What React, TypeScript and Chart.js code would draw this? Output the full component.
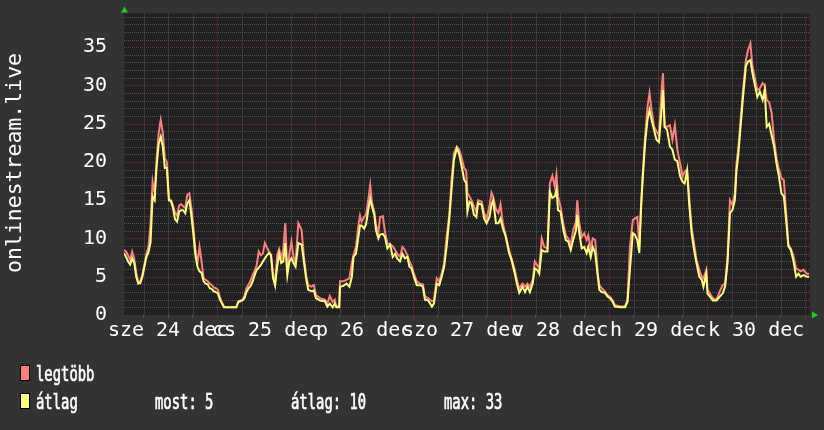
import React, { useEffect, useRef } from "react";
import { Chart, registerables } from "chart.js";

Chart.register(...registerables);

// hours since the start of the graph (one week)
const hours = [
  0, 0.5, 1, 1.5, 2, 2.5, 3, 3.5, 4, 4.5, 5, 5.5, 6, 6.5, 7, 7.5, 8, 8.5, 9, 9.5, 10, 10.5, 11, 11.5, 12, 12.5, 13, 13.5, 14, 14.5, 15, 15.5, 16, 16.5, 17, 17.5, 18, 18.5, 19, 19.5, 20, 20.5, 21, 21.5, 22, 22.5, 23, 23.5, 24, 24.5,
  25, 26, 27, 27.5, 28, 28.5, 29, 29.5, 30, 30.5, 31, 31.5, 32, 32.5, 33, 33.5, 34, 34.5, 35, 35.5, 36, 36.5, 37, 37.5, 38, 38.5, 39, 39.5, 40, 40.5, 41, 41.5, 42, 42.7, 43.5, 44.1, 44.6, 45.1, 45.9, 46.5, 47, 48, 49.2, 49.8, 50.4, 51.1, 51.6, 52, 52.7,
  52.9, 53.7, 54.5, 55.2, 55.8, 56.2, 56.8, 57.4, 57.8, 58.2, 58.8, 59.3, 59.8, 60.3, 60.7, 61.3, 61.7, 62.3, 62.7, 63.4, 63.9, 64.5, 65.2, 65.8, 66.4, 66.9, 67.6, 68.2, 68.8, 69.4, 69.9, 70.4, 71, 71.7, 72.5, 73.2, 73.7, 74.5, 75.4, 75.9, 76.6, 77.2, 77.8, 78.4, 79, 79.7,
  80.2, 80.8, 81.5, 82.1, 82.7, 83.3, 83.8, 84.1, 84.6, 85.1, 85.7, 86.3, 86.7, 87.6, 88.2, 88.8, 89.5, 90, 90.4, 91.1, 91.7, 92.2, 92.8, 93.5, 94.3, 94.9, 95.7, 96.3, 96.8, 97.6, 98.2, 98.8, 99.4, 100.1, 100.6, 101.2, 101.7, 102.3, 102.9, 103.7, 104.3, 104.9,
  105.5, 105.9, 106.3, 106.9, 107.6, 108.2, 108.8, 109.4, 110, 110.7, 111, 111.5, 112.1, 112.7, 113.3, 113.7, 114.3, 114.8, 115.4, 116, 116.4, 117, 117.8, 118.4, 119, 119.7, 120.2, 121.5, 122.7, 123.3, 123.9, 124.6, 125.1, 125.7, 126.2, 126.6, 127,
  127.6, 128.2, 128.7, 129.2, 129.8, 130.4, 131, 131.6, 132, 132.4, 133, 133.7, 134.3, 134.9, 135.5, 136.2, 136.8, 137.3, 137.9, 138.4, 139, 139.6, 140.2, 140.9, 141.5, 141.9, 142.6, 142.9, 143.5, 144.2, 145.1, 145.9, 146.6, 147.2, 147.8, 148.4, 149, 149.6, 150, 150.4, 151, 151.6, 152.3, 152.8, 153.4, 153.9, 154.4, 155.1, 155.7, 156.4, 156.9, 157.4, 158, 158.6, 159.2, 159.8, 160.4, 161, 161.6, 162.1, 162.7, 163.3, 163.9, 164.6, 165.2, 165.7, 166.4, 167.2, 167.8,
];

// "legtöbb" (maximum)
const maxVals = [
  8.5, 8.3, 7.8, 7.2, 8.3, 7.4, 5.5, 4.3, 4.4, 5.3, 6.6, 8.0, 8.9, 12.0, 17.4, 15.8, 20.5, 23.8, 25.5, 23.8, 20.5, 20.0, 15.2, 15.0, 14.3, 13.4, 13.0, 14.3, 14.5, 14.2, 14.0, 15.7, 15.9, 14.0, 11.5, 8.4, 6.8, 8.9, 7.0, 4.8, 4.6, 4.4, 4.1, 3.9, 3.6, 3.5, 3.3, 2.3, 1.6, 1.1,
  1.0, 1.0, 1.0, 1.0, 1.8, 1.9, 2.0, 2.5, 3.5, 4.0, 4.5, 5.2, 5.8, 6.5, 8.3, 7.8, 8.0, 9.4, 8.8, 8.3, 7.9, 5.5, 4.0, 7.8, 8.6, 7.5, 8.5, 12.0, 5.6, 8.0, 9.6, 7.6, 6.8, 12.0, 11.1, 7.4, 5.2, 3.9, 3.7, 3.9, 2.6, 2.2, 2.0, 1.5, 2.5, 1.7, 2.0, 1.1, 1.1,
  4.4, 4.4, 4.6, 4.8, 6.8, 7.8, 8.9, 11.7, 13.0, 12.2, 12.8, 13.1, 15.0, 17.0, 14.8, 13.5, 11.8, 10.7, 12.8, 12.9, 10.9, 9.4, 9.2, 9.0, 8.5, 8.0, 7.6, 8.9, 8.5, 7.8, 7.0, 6.5, 5.4, 4.4, 4.1, 4.0, 2.4, 2.2, 1.8, 1.9, 4.8, 4.4, 5.4, 6.8, 10.2, 13.3,
  17.6, 21.1, 22.0, 21.6, 20.5, 19.2, 18.9, 15.9, 15.5, 15.0, 14.2, 13.5, 15.0, 14.8, 13.3, 12.6, 14.2, 16.0, 15.5, 13.8, 13.3, 14.5, 11.9, 10.4, 8.5, 7.4, 5.9, 4.4, 3.5, 4.1, 3.7, 4.1, 3.7, 4.6, 7.0, 6.5, 6.1, 10.0, 8.9, 8.7, 17.2, 18.2,
  16.8, 18.4, 15.5, 14.2, 11.9, 10.4, 10.0, 9.2, 11.1, 12.2, 15.0, 12.0, 10.2, 10.7, 9.8, 10.4, 8.7, 10.0, 9.8, 5.6, 3.9, 3.5, 3.1, 2.6, 2.4, 1.9, 1.3, 1.1, 1.1, 2.0, 8.9, 12.4, 12.6, 12.8, 9.0, 14.2, 18.0,
  23.3, 27.2, 29.0, 26.8, 24.6, 24.0, 23.5, 29.0, 31.6, 24.6, 24.6, 24.8, 22.9, 24.8, 21.6, 19.8, 18.1, 18.7, 19.0, 15.5, 11.5, 9.4, 7.2, 5.9, 5.0, 4.8, 5.9, 3.3, 2.8, 2.2, 2.0, 3.1, 3.9, 4.1, 7.6, 15.0, 14.4, 15.9, 19.8, 21.6, 25.5, 29.4, 33.3, 34.6, 35.5, 32.5, 31.2, 29.4, 29.6, 30.3, 30.0, 28.1, 27.8, 26.4, 22.9, 20.5, 19.0, 17.9, 17.6, 13.7, 9.2, 8.7, 7.8, 6.1, 5.9, 5.7, 5.9, 5.4, 5.4,
];

// "átlag" (average)
const avgVals = [
  8.1, 7.6, 7.0, 6.6, 7.4, 6.8, 5.0, 4.1, 4.2, 5.0, 6.3, 7.6, 8.2, 9.5, 15.5, 15.0, 19.5, 22.4, 23.3, 22.0, 19.2, 19.2, 15.0, 14.9, 14.0, 12.5, 12.2, 13.5, 13.7, 13.7, 13.3, 14.6, 15.0, 13.0, 10.5, 7.8, 6.3, 5.7, 5.5, 4.4, 4.1, 4.0, 3.5, 3.4, 3.1, 3.0, 2.8, 2.0, 1.5, 1.0,
  1.0, 1.0, 1.0, 1.0, 1.7, 1.8, 1.9, 2.2, 3.0, 3.5, 3.8, 4.4, 5.2, 5.9, 6.2, 6.5, 7.0, 7.4, 7.8, 8.1, 7.8, 4.8, 3.9, 6.3, 8.0, 6.8, 7.0, 9.4, 5.2, 7.0, 7.4, 6.8, 6.3, 9.4, 9.2, 6.8, 4.8, 3.3, 3.1, 3.2, 2.2, 1.9, 1.8, 1.1, 1.5, 1.0, 1.5, 1.0, 1.0,
  3.7, 3.8, 4.1, 3.7, 5.0, 7.6, 8.0, 10.2, 11.7, 11.7, 11.3, 11.9, 13.7, 15.2, 14.2, 13.1, 11.1, 10.0, 10.5, 10.6, 10.2, 8.7, 9.2, 7.6, 8.0, 7.4, 7.0, 8.0, 7.4, 7.6, 6.3, 6.1, 5.0, 3.9, 3.9, 3.7, 2.0, 1.9, 1.1, 1.5, 4.1, 3.9, 5.0, 6.3, 8.9, 12.8,
  16.3, 20.3, 21.8, 21.0, 19.4, 17.7, 17.2, 13.5, 14.8, 14.6, 13.1, 12.8, 14.6, 14.4, 12.6, 12.0, 12.8, 14.4, 15.0, 12.0, 12.0, 12.6, 11.3, 10.2, 8.1, 7.2, 5.4, 3.9, 2.9, 3.7, 3.0, 3.7, 3.0, 4.1, 6.1, 5.9, 5.4, 8.5, 8.3, 8.3, 16.1, 15.3,
  15.5, 16.4, 13.7, 13.5, 11.1, 9.8, 9.6, 8.5, 9.8, 11.1, 13.1, 10.7, 8.7, 8.9, 8.1, 8.9, 7.6, 8.9, 8.1, 5.2, 3.3, 3.0, 2.9, 2.4, 2.2, 1.7, 1.1, 1.0, 1.0, 1.7, 5.9, 10.7, 10.5, 9.8, 8.1, 13.7, 17.6,
  22.4, 25.5, 26.8, 25.5, 24.2, 22.9, 22.6, 26.4, 29.4, 24.6, 24.2, 22.0, 21.6, 20.3, 20.1, 18.1, 17.4, 17.2, 18.9, 14.6, 10.7, 8.5, 6.8, 5.0, 4.6, 3.7, 5.4, 2.8, 2.4, 1.9, 1.9, 2.4, 2.8, 3.7, 6.8, 13.3, 13.7, 15.0, 18.9, 20.7, 24.6, 28.5, 32.5, 33.1, 33.3, 31.6, 30.3, 28.5, 29.2, 28.1, 29.4, 24.6, 25.0, 23.5, 22.0, 19.8, 18.1, 15.9, 15.5, 12.8, 9.0, 8.5, 7.2, 5.0, 5.4, 5.0, 5.2, 5.0, 5.0,
];

// x axis: first midnight (hours after start), day labels shown at noon
const firstMidnight = 22.8;
const dayLabels = ["sze 24 dec", "cs 25 dec", "p 26 dec", "szo 27 dec", "v 28 dec", "h 29 dec", "k 30 dec"];
const yLabelValues = [0, 5, 10, 15, 20, 25, 30, 35];
const yTitle = "onlinestream.live";
const seriesNames = ["legtöbb", "átlag"];
const statTexts = ["most: 5", "átlag: 10", "max: 33"];

const MONO = "'DejaVu Sans Mono', monospace";
const COL_MAX = "#ff7f7f";
const COL_AVG = "#ffff7f";
const GRID_MINOR = "#555555";
const GRID_MAJOR = "#6e3030";

export default function App() {
  const ref = useRef<HTMLCanvasElement>(null);

  useEffect(() => {
    document.body.style.margin = "0";
    document.body.style.background = "#333333";
    const canvas = ref.current;
    if (!canvas) return;

    const xGrid: number[] = [];
    for (let v = firstMidnight - 18; v <= 168; v += 6) if (v >= 0) xGrid.push(v);
    const yGrid: number[] = [];
    for (let v = 0; v <= 39; v++) yGrid.push(v);

    const isMidnight = (v: number) => {
      const r = (((v - firstMidnight) % 24) + 24) % 24;
      return r < 0.01 || r > 23.99;
    };
    const labelFor = (v: number) => {
      for (let k = 0; k < dayLabels.length; k++) {
        if (Math.abs(v - (firstMidnight - 12 + 24 * k)) < 0.01) return dayLabels[k];
      }
      return "";
    };

    const bgPlugin = {
      id: "bg",
      beforeDraw(chart: any) {
        const { ctx, chartArea } = chart;
        ctx.save();
        ctx.fillStyle = "#333333";
        ctx.fillRect(0, 0, chart.width, chart.height);
        ctx.fillStyle = "#212121";
        ctx.fillRect(chartArea.left, chartArea.top, chartArea.right - chartArea.left, chartArea.bottom - chartArea.top);
        ctx.restore();
      },
      beforeDatasetsDraw(chart: any) {
        const { ctx, chartArea, scales } = chart;
        const xs = scales.x;
        const ys = scales.y;
        ctx.save();
        ctx.lineWidth = 1;
        ctx.setLineDash([1, 1]);
        const drawSet = (major: boolean) => {
          ctx.strokeStyle = major ? GRID_MAJOR : GRID_MINOR;
          ctx.beginPath();
          for (const v of yGrid) {
            if (v === 0) continue;
            if ((v % 5 === 0) !== major) continue;
            const y = Math.round(ys.getPixelForValue(v)) + 0.5;
            ctx.moveTo(chartArea.left, y);
            ctx.lineTo(chartArea.right, y);
          }
          for (const v of xGrid) {
            if (isMidnight(v) !== major) continue;
            const x = Math.round(xs.getPixelForValue(v)) + 0.5;
            ctx.moveTo(x, chartArea.top);
            ctx.lineTo(x, chartArea.bottom);
          }
          ctx.stroke();
        };
        drawSet(false);
        drawSet(true);
        ctx.restore();
      },
    };

    const overlayPlugin = {
      id: "overlay",
      afterDraw(chart: any) {
        const { ctx, chartArea } = chart;
        ctx.save();
        // y title
        ctx.fillStyle = "#ffffff";
        ctx.font = `21.5px ${MONO}`;
        ctx.textAlign = "center";
        ctx.textBaseline = "alphabetic";
        ctx.translate(21, 163);
        ctx.rotate(-Math.PI / 2);
        ctx.fillText(yTitle, 0, 0);
        ctx.restore();

        // arrows
        ctx.save();
        ctx.fillStyle = "#22cc22";
        ctx.beginPath();
        ctx.moveTo(chartArea.left - 3, chartArea.top - 1);
        ctx.lineTo(chartArea.left + 4, chartArea.top - 1);
        ctx.lineTo(chartArea.left + 0.5, chartArea.top - 7);
        ctx.closePath();
        ctx.fill();
        ctx.beginPath();
        ctx.moveTo(chartArea.right + 2, chartArea.bottom - 3.5);
        ctx.lineTo(chartArea.right + 2, chartArea.bottom + 3.5);
        ctx.lineTo(chartArea.right + 8, chartArea.bottom);
        ctx.closePath();
        ctx.fill();
        ctx.restore();

        // legend
        const drawText = (t: string, x: number, y: number) => {
          ctx.save();
          ctx.fillStyle = "#ffffff";
          ctx.strokeStyle = "#ffffff";
          ctx.lineWidth = 0.7;
          ctx.font = `21px ${MONO}`;
          ctx.textAlign = "left";
          ctx.textBaseline = "alphabetic";
          ctx.translate(x, y);
          ctx.scale(0.66, 1);
          ctx.fillText(t, 0, 0);
          ctx.strokeText(t, 0, 0);
          ctx.restore();
        };
        const swatch = (col: string, y: number) => {
          ctx.save();
          ctx.fillStyle = col;
          ctx.fillRect(20, y, 10, 16);
          ctx.strokeStyle = "#000000";
          ctx.lineWidth = 1;
          ctx.strokeRect(20.5, y + 0.5, 9, 15);
          ctx.restore();
        };
        swatch(COL_MAX, 365);
        swatch(COL_AVG, 393);
        drawText(seriesNames[0], 36, 380.5);
        drawText(seriesNames[1], 36, 408.5);
        drawText(statTexts[0], 155, 408.5);
        drawText(statTexts[1], 291, 408.5);
        drawText(statTexts[2], 444, 408.5);
      },
    };

    const chart = new Chart(canvas, {
      type: "line",
      data: {
        datasets: [
          {
            label: seriesNames[1],
            data: hours.map((h, i) => ({ x: h, y: avgVals[i] })),
            borderColor: COL_AVG,
            borderWidth: 2,
            pointRadius: 0,
            tension: 0,
            fill: false,
            order: 0,
          },
          {
            label: seriesNames[0],
            data: hours.map((h, i) => ({ x: h, y: maxVals[i] })),
            borderColor: COL_MAX,
            borderWidth: 2,
            pointRadius: 0,
            tension: 0,
            fill: false,
            order: 1,
          },
        ],
      },
      options: {
        animation: false,
        responsive: false,
        devicePixelRatio: 1,
        layout: { padding: { top: 13.5, right: 14, left: 0, bottom: 0 } },
        plugins: { legend: { display: false }, tooltip: { enabled: false } },
        scales: {
          x: {
            type: "linear",
            min: 0,
            max: 168,
            afterBuildTicks: (s: any) => {
              s.ticks = xGrid.map((v) => ({ value: v }));
            },
            afterFit: (s: any) => {
              s.height = 115;
              s.paddingLeft = 0;
              s.paddingRight = 0;
              s.paddingTop = 0;
              s.paddingBottom = 0;
            },
            grid: {
              color: (c: any) => (isMidnight(c.tick.value) ? GRID_MAJOR : GRID_MINOR),
              lineWidth: 1,
              drawOnChartArea: false,
              drawTicks: true,
              tickLength: 3,
            },
            border: { display: false },
            ticks: {
              autoSkip: false,
              maxRotation: 0,
              minRotation: 0,
              padding: 1,
              color: "#ffffff",
              font: { family: MONO, size: 20 },
              callback: (v: any) => labelFor(Number(v)),
            },
          },
          y: {
            type: "linear",
            min: 0,
            max: 39.4,
            afterBuildTicks: (s: any) => {
              s.ticks = yGrid.map((v) => ({ value: v }));
            },
            afterFit: (s: any) => {
              s.width = 124;
              s.paddingLeft = 0;
              s.paddingRight = 0;
              s.paddingTop = 0;
              s.paddingBottom = 0;
            },
            grid: { display: false, drawTicks: false },
            border: { display: false },
            ticks: {
              autoSkip: false,
              padding: 17,
              color: "#ffffff",
              font: { family: MONO, size: 20 },
              callback: (v: any) => (yLabelValues.includes(Number(v)) ? String(v) : ""),
            },
          },
        },
      },
      plugins: [bgPlugin, overlayPlugin],
    });

    return () => chart.destroy();
  }, []);

  return <canvas ref={ref} width={824} height={430} style={{ display: "block", width: 824, height: 430 }} />;
}
